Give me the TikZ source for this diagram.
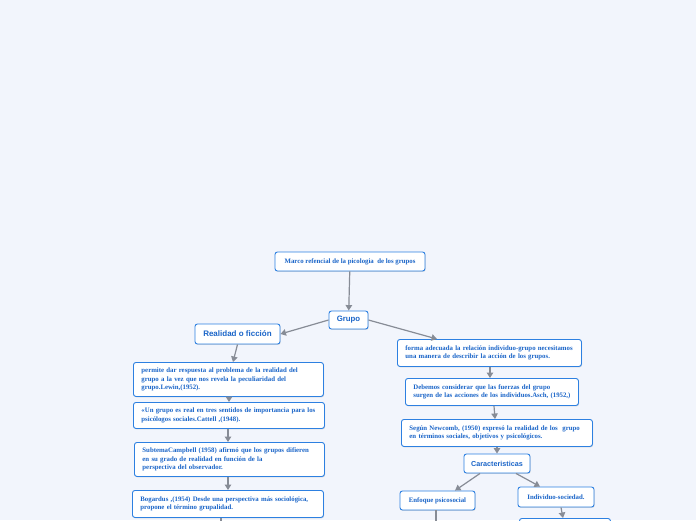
\documentclass[tikz,border=0pt]{standalone}
\usepackage{fontspec}
\setmainfont{Liberation Serif}
\newfontfamily\headfont{Liberation Sans}
\usetikzlibrary{arrows.meta, positioning, shadows}
\definecolor{mmback}{RGB}{242,245,252}
\definecolor{mmblue}{RGB}{45,128,225}
\definecolor{mmtext}{RGB}{25,100,200}
\definecolor{mmgray}{RGB}{135,140,150}
\tikzset{
    box/.style={draw=mmblue, line width=0.9pt, rounded corners=2.5pt, fill=white,
                text=mmtext, font=\fontsize{6.8}{8.5}\selectfont\bfseries, align=left,
                inner xsep=8pt, inner ysep=2pt,
                drop shadow={shadow xshift=0.6pt, shadow yshift=-0.9pt, opacity=0.25}},
    topic/.style={box, align=center, font=\headfont\fontsize{7.5}{9}\selectfont\bfseries, inner xsep=2pt},
    leaf/.style={box, align=center, inner xsep=2pt},
    arrow/.style={-{Triangle[width=6.5pt, length=5.5pt]}, line width=1.2pt, mmgray},
    stub/.style={line width=1.2pt, mmgray},
}

\begin{document}
\begin{tikzpicture}[x=1pt, y=-1pt]
    \useasboundingbox[fill=mmback] (0,0) rectangle (696,520);
    % centre and left branch
    \node[leaf, minimum width=150pt, minimum height=19pt] (marco) at (350,261.5) {Marco refencial de la picologia \ de los grupos};
    \node[topic, minimum width=39pt, minimum height=18pt, font=\headfont\fontsize{7.8}{9}\selectfont\bfseries] (grupo) at (348.5,320) {Grupo};
    \node[topic, minimum width=85pt, minimum height=20pt, font=\headfont\fontsize{8}{9}\selectfont\bfseries] (real) at (237.5,334) {Realidad o ficción};
    \node[box, anchor=north west, text width=174pt, minimum height=34pt] (lewin) at (133,362)
        {permite dar respuesta al problema de la realidad del\\grupo a la vez que nos revela la peculiaridad del\\grupo.Lewin,(1952).};
    \node[box, anchor=north west, text width=175pt, minimum height=26pt] (cattell) at (133,402)
        {«Un grupo es real en tres sentidos de importancia para los\\psicólogos sociales.Cattell ,(1948).};
    \node[box, anchor=north west, text width=174pt, minimum height=34pt] (campbell) at (134,442)
        {SubtemaCampbell (1958) afirmó que los grupos difieren\\en su grado de realidad en función de la\\perspectiva del observador.};
    \node[box, anchor=north west, text width=175pt, minimum height=27pt] (bogardus) at (132,490)
        {Bogardus ,(1954) Desde una perspectiva más sociológica,\\propone el término grupalidad.};
    % right branch
    \node[box, anchor=north west, text width=168pt, minimum height=27pt] (forma) at (397,339)
        {forma adecuada la relación individuo-grupo necesitamos\\una manera de describir la acción de los grupos.};
    \node[box, anchor=north west, text width=157pt, minimum height=27pt] (asch) at (405,378)
        {Debemos considerar que las fuerzas del grupo\\surgen de las acciones de los individuos.Asch, (1952,)};
    \node[box, anchor=north west, text width=175pt, minimum height=27pt] (newcomb) at (401,419)
        {Según Newcomb, (1950) expresó la realidad de los \ grupo\\en términos sociales, objetivos y psicológicos.};
    \node[topic, minimum width=66pt, minimum height=19pt, font=\headfont\fontsize{7.2}{9}\selectfont\bfseries] (carac) at (497,463.5) {Caracteristicas};
    \node[leaf, minimum width=75pt, minimum height=19pt] (enfoque) at (437.5,500.5) {Enfoque psicosocial};
    \node[leaf, minimum width=76pt, minimum height=20pt] (indiv) at (556,497) {Individuo-sociedad.};
    \node[box, anchor=north west, minimum width=91pt, minimum height=20pt] (next) at (519,518) {};
    \coordinate (bogend) at (221,521);
    \coordinate (enfend) at (436,521);
    % connectors
    \draw[arrow] (marco) -- (grupo);
    \draw[arrow] (grupo.west) -- (real.east);
    \draw[arrow] (grupo.east) -- (forma.north west -| 437,0);
    \draw[arrow] (real.south) -- (lewin.north -| 233,0);
    \draw[arrow] (lewin.south -| 229,0) -- (cattell.north -| 229,0);
    \draw[arrow] (cattell.south -| 228,0) -- (campbell.north -| 228,0);
    \draw[arrow] (campbell.south -| 228,0) -- (bogardus.north -| 228,0);
    \draw[stub] (bogardus.south -| 221,0) -- (bogend);
    \draw[arrow] (forma.south -| 490,0) -- (asch.north -| 490,0);
    \draw[arrow] (asch.south -| 494,0) -- (newcomb.north -| 495,0);
    \draw[arrow] (newcomb.south -| 497,0) -- (carac.north);
    \draw[arrow] (carac.south -| 480,0) -- (enfoque.north -| 455,0);
    \draw[arrow] (carac.south -| 516,0) -- (indiv.north -| 540,0);
    \draw[stub] (enfoque.south -| 436,0) -- (enfend);
    \draw[arrow] (indiv.south -| 561,0) -- (next.north -| 563,0);
\end{tikzpicture}
\end{document}
